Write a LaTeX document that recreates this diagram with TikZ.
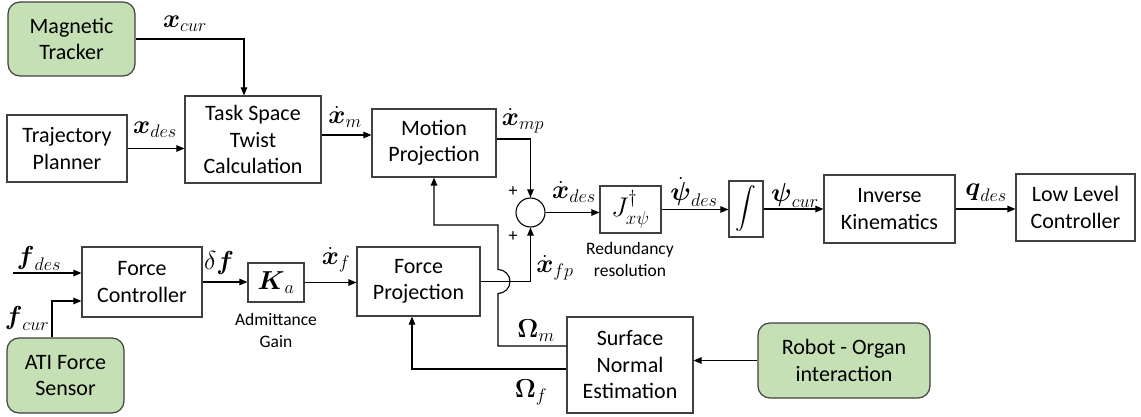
\RequirePackage{fix-cm}
\documentclass[tikz,border=0pt]{standalone}
\usepackage{amsmath}
\usepackage{fontspec}
\setmainfont{Carlito}
\usetikzlibrary{arrows.meta,calc}
\definecolor{gfill}{HTML}{C5E0B4}
\definecolor{boxc}{HTML}{404040}
\begin{document}
\begin{tikzpicture}[x=1pt,y=-1pt,
  blk/.style={draw=boxc, line width=1.2pt, fill=white, align=center, inner sep=0pt,
    font=\fontsize{22}{26.5}\selectfont},
  gblk/.style={blk, fill=gfill, rounded corners=12pt},
  lbl/.style={font=\fontsize{26}{30}\selectfont, inner sep=0pt},
  smalltxt/.style={font=\fontsize{17.5}{22}\selectfont, align=center, inner sep=0pt},
  plussign/.style={font=\fontsize{18}{20}\selectfont, inner sep=0pt},
  arr/.style={-{Triangle[length=8pt,width=6.5pt]}, line width=1.1pt},
  ln/.style={line width=1.1pt}]
\useasboundingbox (0,0) rectangle (1141,417);

% blocks
\node[gblk, minimum width=127pt, minimum height=74pt] (mag) at (71.5,39) {Magnetic\\Tracker};
\node[blk, minimum width=120pt, minimum height=67pt] (traj) at (67,148.5) {Trajectory\\Planner};
\node[blk, minimum width=136pt, minimum height=87pt] (task) at (253,139.5) {Task Space\\Twist\\Calculation};
\node[blk, minimum width=124pt, minimum height=68pt] (motion) at (434,143) {Motion\\Projection};
\node[draw=black, line width=1.1pt, circle, minimum size=29pt, inner sep=0pt] (sum) at (530.5,212.5) {};
\node[blk, minimum width=61pt, minimum height=47pt, font=\fontsize{27}{30}\selectfont] (jac) at (630.5,209.5) {$J^{\dagger}_{x\psi}$};
\node[blk, minimum width=34pt, minimum height=56pt, font=\fontsize{20}{22}\selectfont] (integ) at (746,209) {$\displaystyle\int$};
\node[blk, minimum width=131pt, minimum height=68pt] (ik) at (889.5,209) {Inverse\\Kinematics};
\node[blk, minimum width=119pt, minimum height=67pt] (llc) at (1075.5,207.5) {Low Level\\Controller};
\node[blk, minimum width=120pt, minimum height=70pt] (fc) at (142,282) {Force\\Controller};
\node[blk, minimum width=56pt, minimum height=39pt, font=\fontsize{26}{30}\selectfont] (ka) at (276,282.5) {$\boldsymbol{K}_a$};
\node[blk, minimum width=123pt, minimum height=69pt] (fp) at (418.5,281.5) {Force\\Projection};
\node[gblk, minimum width=117pt, minimum height=75pt] (ati) at (65.5,375.5) {ATI Force\\Sensor};
\node[blk, minimum width=126pt, minimum height=96pt] (sne) at (630,365) {Surface\\Normal\\Estimation};
\node[gblk, minimum width=172pt, minimum height=75pt] (robot) at (844,360.5) {Robot - Organ\\interaction};

% labels
\node[lbl] (lxcur) at (185,24) {$\boldsymbol{x}_{cur}$};
\node[lbl] (lxdes) at (155,130) {$\boldsymbol{x}_{des}$};
\node[lbl] (lxm) at (345,117) {$\dot{\boldsymbol{x}}_{m}$};
\node[lbl] (lxmp) at (523,121) {$\dot{\boldsymbol{x}}_{mp}$};
\node[lbl] (lxdesd) at (574,192) {$\dot{\boldsymbol{x}}_{des}$};
\node[lbl] (lxfp) at (555,268) {$\dot{\boldsymbol{x}}_{fp}$};
\node[lbl] (lpsid) at (694,192) {$\dot{\boldsymbol{\psi}}_{des}$};
\node[lbl] (lpsic) at (795,195) {$\boldsymbol{\psi}_{cur}$};
\node[lbl] (lq) at (986,193) {$\boldsymbol{q}_{des}$};
\node[lbl] (lfdes) at (39,258) {$\boldsymbol{f}_{des}$};
\node[lbl] (lfcur) at (27,318) {$\boldsymbol{f}_{cur}$};
\node[lbl] (ldf) at (219,263) {$\delta\boldsymbol{f}$};
\node[lbl] (lxf) at (336,260) {$\dot{\boldsymbol{x}}_{f}$};
\node[lbl] (lom) at (536,331) {$\boldsymbol{\Omega}_{m}$};
\node[lbl] (lof) at (531,392) {$\boldsymbol{\Omega}_{f}$};
\node[smalltxt] (lred) at (630,259) {Redundancy\\resolution};
\node[smalltxt] (ladm) at (276,330) {Admittance\\Gain};
\node[plussign] (p1) at (513,192) {+};
\node[plussign] (p2) at (513,237) {+};

% connectors
\coordinate (fdes) at (13,273);
\draw[arr] (mag.east) -| ([xshift=-9pt]task.north);
\draw[arr] (traj.east) -- (traj.east -| task.west);
\draw[arr] ([yshift=4.5pt]task.east) -- ([yshift=4.5pt]task.east -| motion.west);
\draw[arr] ([yshift=4pt]motion.east) -| (sum.north);
\draw[arr] (sum.east) -- (sum.east -| jac.west);
\draw[arr] (jac.east) -- (jac.east -| integ.west);
\draw[arr] (integ.east) -- (integ.east -| ik.west);
\draw[arr] (ik.east) -- (ik.east -| llc.west);
\draw[arr] (fdes) -- (fdes -| fc.west);
\draw[arr] ([xshift=-13.5pt]ati.north) |- ([yshift=-19pt]fc.west);
\draw[arr] (fc.east) -- (fc.east -| ka.west);
\draw[arr] (ka.east) -- (ka.east -| fp.west);
\draw[arr] (fp.east) -| (sum.south);
\draw[arr] ([yshift=19pt]sne.west) -- (498,346) -- (498,293.5)
  arc[start angle=-90, end angle=90, radius=12pt] -- (498,225) -| (motion.south);
\draw[arr] ([yshift=-4pt]sne.west) -| ([xshift=-6.5pt]fp.south);
\draw[arr] (robot.west) -- (robot.west -| sne.east);
\end{tikzpicture}
\end{document}
